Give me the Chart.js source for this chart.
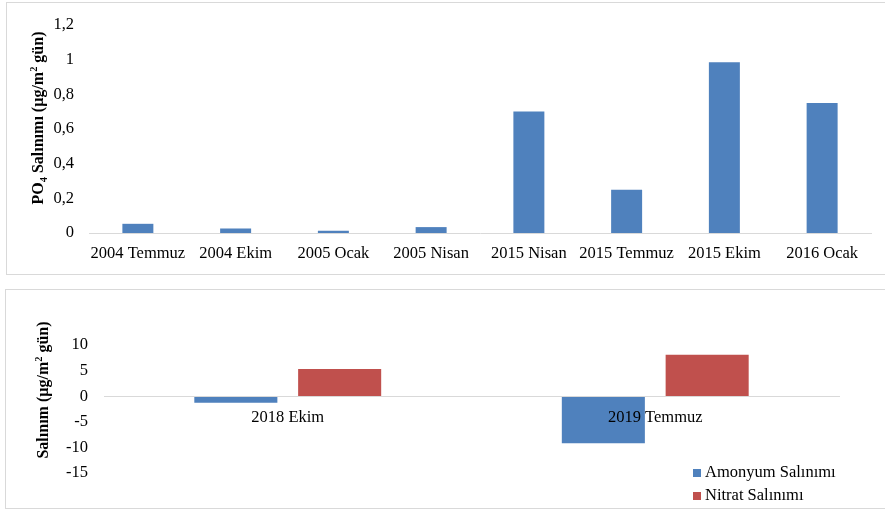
<!DOCTYPE html>
<html>
<head>
<meta charset="utf-8">
<script src="https://cdn.jsdelivr.net/npm/chart.js@4"></script>
<style>
  body { margin: 0; background: #fff; width: 885px; height: 511px; overflow: hidden; position: relative; }
  .panel { position: absolute; border: 1px solid #d9d9d9; box-sizing: border-box; }
  canvas { position: absolute; left: 0; }
</style>
</head>
<body>
<div class="panel" style="left:6px; top:2px; width:900px; height:273px;"></div>
<div class="panel" style="left:5px; top:289px; width:900px; height:220px;"></div>
<canvas id="poChart" width="885" height="280" style="top:0"></canvas>
<canvas id="releaseChart" width="885" height="231" style="top:280px"></canvas>
<script>
'use strict';

// PO4 release per sampling period
const poMonths = ['2004 Temmuz', '2004 Ekim', '2005 Ocak', '2005 Nisan', '2015 Nisan', '2015 Temmuz', '2015 Ekim', '2016 Ocak'];
const poRelease = [0.053, 0.026, 0.013, 0.034, 0.70, 0.25, 0.985, 0.75];
const poTicks = ['0', '0,2', '0,4', '0,6', '0,8', '1', '1,2'];

// ammonium / nitrate release
const releaseMonths = ['2018 Ekim', '2019 Temmuz'];
const ammonium = [-1.3, -9.2];
const nitrate = [5.3, 8.1];
const releaseTicks = ['-15', '-10', '-5', '0', '5', '10'];

const BLUE = '#4F81BD';
const RED = '#C0504D';
const SERIF = "'Liberation Serif', 'Times New Roman', serif";

Chart.defaults.font.family = SERIF;
Chart.defaults.font.size = 16.5;
Chart.defaults.color = '#000';

// rotated axis title with sub/superscript pieces
const sideTitle = {
  id: 'sideTitle',
  afterDraw(chart, args, opts) {
    const ctx = chart.ctx;
    const size = opts.size;
    ctx.save();
    ctx.translate(opts.x, opts.y);
    ctx.rotate(-Math.PI / 2);
    ctx.fillStyle = '#000';
    ctx.textBaseline = 'alphabetic';
    const parts = opts.parts.map(p => {
      const s = p.sub || p.sup ? size * 0.65 : size;
      ctx.font = 'bold ' + s + 'px ' + SERIF;
      return { text: p.text, s: s, dy: p.sub ? size * 0.22 : (p.sup ? -size * 0.38 : 0), w: ctx.measureText(p.text).width };
    });
    const total = parts.reduce((a, p) => a + p.w, 0);
    let x = -total / 2;
    parts.forEach(p => {
      ctx.font = 'bold ' + p.s + 'px ' + SERIF;
      ctx.fillText(p.text, x, size * 0.33 + p.dy);
      x += p.w;
    });
    ctx.restore();
  }
};

// stacked legend in the lower right corner
const cornerLegend = {
  id: 'cornerLegend',
  afterDraw(chart, args, opts) {
    if (!opts.show) return;
    const ctx = chart.ctx;
    ctx.save();
    ctx.font = '16.5px ' + SERIF;
    ctx.textBaseline = 'middle';
    chart.data.datasets.forEach((ds, i) => {
      const y = opts.y + i * opts.gap;
      ctx.fillStyle = ds.backgroundColor;
      ctx.fillRect(opts.x, y - 4, 8, 8);
      ctx.fillStyle = '#000';
      ctx.fillText(ds.label, opts.x + 12, y);
    });
    ctx.restore();
  }
};

new Chart(document.getElementById('poChart'), {
  type: 'bar',
  data: {
    labels: poMonths,
    datasets: [{
      label: 'PO4',
      data: poRelease,
      backgroundColor: BLUE,
      barPercentage: 0.317,
      categoryPercentage: 1
    }]
  },
  options: {
    responsive: false,
    animation: false,
    layout: { padding: { left: 49, right: 14, top: 23, bottom: 7 } },
    scales: {
      x: {
        grid: { display: false, drawTicks: false },
        border: { color: '#d9d9d9' },
        ticks: { padding: 11, maxRotation: 0, autoSkip: false },
        afterFit: s => { s.height = 40; }
      },
      y: {
        min: 0,
        max: 1.2,
        grid: { display: false, drawTicks: false },
        border: { display: false },
        ticks: { stepSize: 0.2, padding: 15, callback: (v, i) => poTicks[i] },
        afterFit: s => { s.width = 40; }
      }
    },
    plugins: {
      legend: { display: false },
      tooltip: { enabled: false },
      sideTitle: {
        x: 38, y: 118, size: 16,
        parts: [{ text: 'PO' }, { text: '4', sub: true }, { text: ' Salınımı (µg/m' }, { text: '2', sup: true }, { text: ' gün)' }]
      },
      cornerLegend: { show: false }
    }
  },
  plugins: [sideTitle, cornerLegend]
});

new Chart(document.getElementById('releaseChart'), {
  type: 'bar',
  data: {
    labels: releaseMonths,
    datasets: [
      { label: 'Amonyum Salınımı', data: ammonium, backgroundColor: BLUE, barPercentage: 0.8, categoryPercentage: 0.565 },
      { label: 'Nitrat Salınımı', data: nitrate, backgroundColor: RED, barPercentage: 0.8, categoryPercentage: 0.565 }
    ]
  },
  options: {
    responsive: false,
    animation: false,
    layout: { padding: { left: 64, right: 46, top: 65, bottom: 38 } },
    scales: {
      x: {
        position: { y: 0 },
        grid: { display: false, drawTicks: false },
        border: { color: '#d9d9d9', z: 1 },
        ticks: { padding: 12, maxRotation: 0, autoSkip: false, z: 1 },
        afterFit: s => { s.height = 0; }
      },
      y: {
        min: -15,
        max: 10,
        grid: { display: false, drawTicks: false },
        border: { display: false },
        ticks: { stepSize: 5, padding: 16, callback: (v, i) => releaseTicks[i] },
        afterFit: s => { s.width = 40; }
      }
    },
    plugins: {
      legend: { display: false },
      tooltip: { enabled: false },
      sideTitle: {
        x: 43, y: 110, size: 16,
        parts: [{ text: 'Salınım (µg/m' }, { text: '2', sup: true }, { text: ' gün)' }]
      },
      cornerLegend: { show: true, x: 693, y: 193, gap: 23 }
    }
  },
  plugins: [sideTitle, cornerLegend]
});
</script>
</body>
</html>
